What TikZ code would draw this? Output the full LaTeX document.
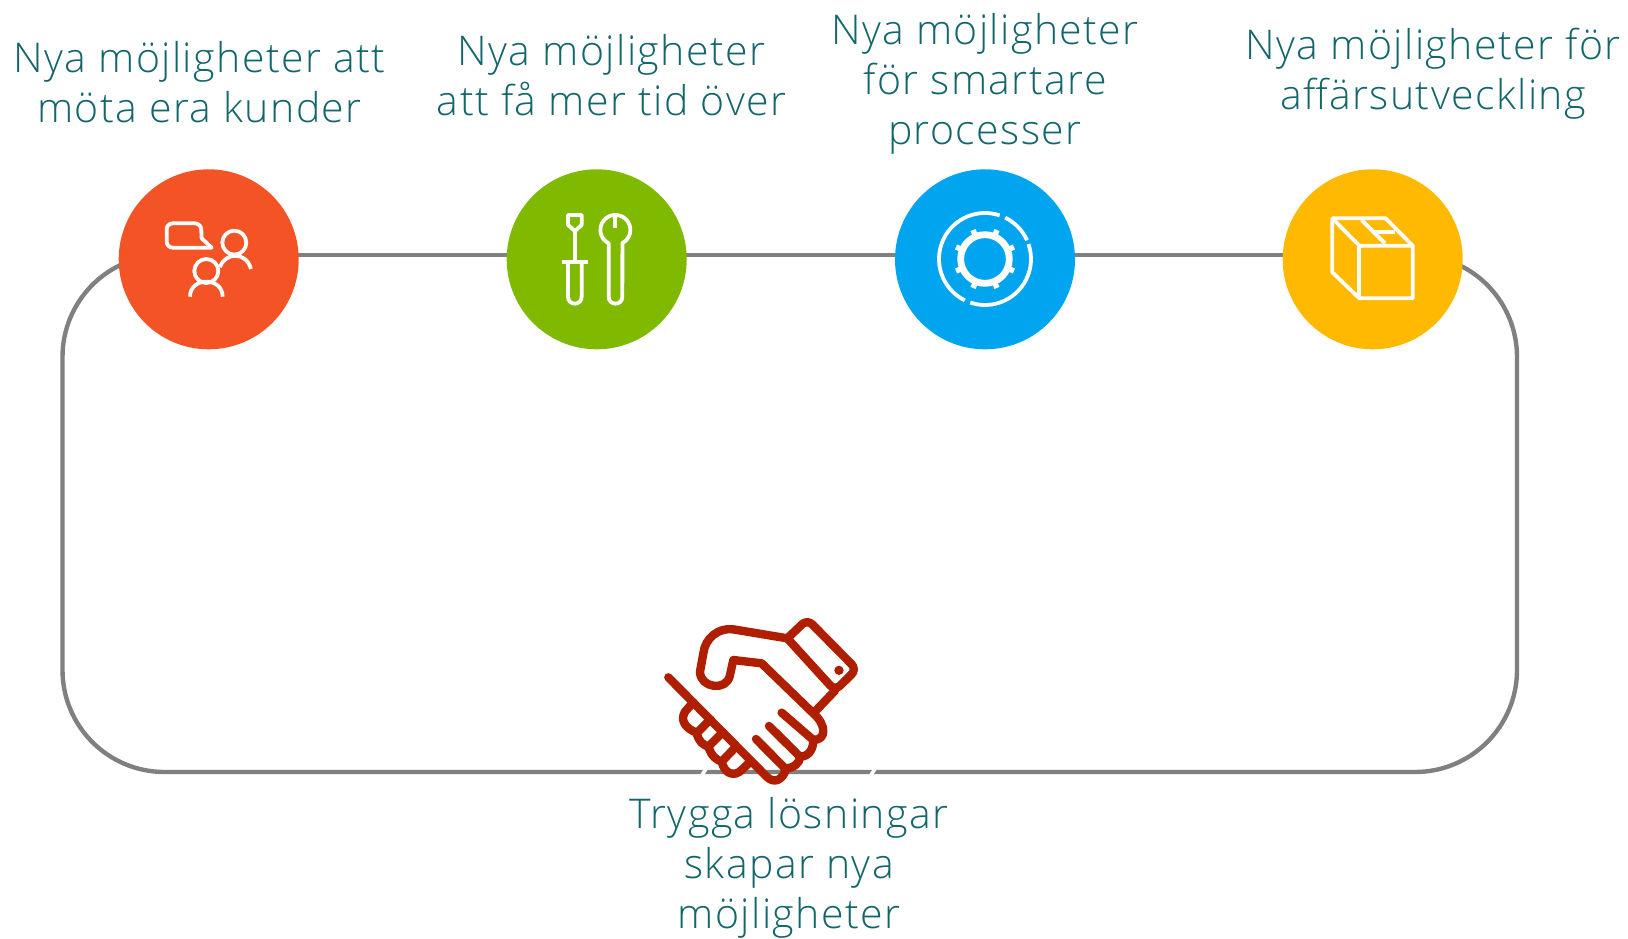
\documentclass[tikz,border=0pt]{standalone}
\usepackage{fontspec}
\setmainfont{Open Sans Light}[LetterSpace=3.5]
\usepackage{xcolor}
\usetikzlibrary{positioning,backgrounds}
\definecolor{meetcol}{HTML}{F35325}
\definecolor{toolcol}{HTML}{7FBA00}
\definecolor{gearcol}{HTML}{00A4EF}
\definecolor{boxcol}{HTML}{FFB900}
\definecolor{shakecol}{HTML}{B01E00}
\definecolor{textcol}{HTML}{13666A}
\definecolor{ringcol}{HTML}{808080}
\begin{document}
\begin{tikzpicture}[
		x=1pt,
		y=-1pt,
		hub/.style={
		  circle,
		  draw=none,
		  minimum size=180pt,
		  inner sep=0pt
		  },
		caption/.style={
		  align=center,
		  text=textcol,
		  font=\fontsize{41}{50}\selectfont
		  },
		ring/.style={
		  draw=ringcol,
		  line width=4.4pt
		  },
		glyph/.style={
		  draw=white,
		  line width=3.8pt,
		  line join=round
		  },
		shake/.style={
		  draw=shakecol,
		  line width=8.4pt,
		  line cap=round,
		  line join=round
		  }
		]
		\useasboundingbox (0,0) rectangle (1628,938);
		% circles
		\node[hub,fill=meetcol] (meet) at (208.7,259.3) {};
		\node[hub,fill=toolcol] (tools) at (596.7,259.3) {};
		\node[hub,fill=gearcol] (gear) at (985,259.3) {};
		\node[hub,fill=boxcol] (parcel) at (1372.7,259.3) {};
		\coordinate (topline) at (0,255);
		\coordinate (loopnw) at (62.5,255);
		\coordinate (loopsw) at (62.5,772);
		\coordinate (loopse) at (1517,772);
		\coordinate (loopne) at (1517,255);
		% grey line
		\begin{scope}[on background layer]
		  \foreach \from/\to in {meet/tools,tools/gear,gear/parcel}
		    \draw[ring] (\from |- topline) -- (\to |- topline);
		  \draw[ring,rounded corners=102pt] (meet |- topline) -- (loopnw) -- (loopsw) -- (loopse) -- (loopne) -- (parcel |- topline);
		\end{scope}
		% labels
		\node[caption] (meettext) at (199.4,82) {Nya möjligheter att\\möta era kunder};
		\node[caption] (toolstext) at (611.6,75) {Nya möjligheter\\att få mer tid över};
		\node[caption] (geartext) at (985,83.5) {Nya möjligheter\\för smartare\\processer};
		\node[caption] (parceltext) at (1433,74) {Nya möjligheter för\\affärsutveckling};
		\node[caption] (shaketext) at (789,868) {Trygga lösningar\\skapar nya\\möjligheter};
		% people
		\begin{scope}[shift={(110,160)},x=0.3333pt,y=-0.3333pt]
		  \draw[glyph] (305,263) [rounded corners=6pt] -- (170,263) -- (170,190) -- (273,190) [sharp corners] -- (275,235) -- cycle;
		  \draw[glyph] (373,248) circle[radius=36];
		  \draw[glyph] (289,333) circle[radius=36];
		  \draw[glyph] (240,410) .. controls (240,350) and (338,350) .. (338,410);
		  \draw[glyph] (330,322) .. controls (345,275) and (410,275) .. (423,327);
		\end{scope}
		% tools
		\begin{scope}[shift={(500,160)},x=0.3333pt,y=-0.3333pt]
		  \draw[glyph] (204,165) -- (245,165) -- (245,195) -- (225,213) -- (204,195) -- cycle;
		  \draw[glyph] (225,213) -- (225,306);
		  \draw[glyph] (185,306) -- (265,306);
		  \draw[glyph] (204,306) -- (204,410) .. controls (204,438) and (245,438) .. (245,410) -- (245,306);
		  \draw[glyph] (326,410) -- (326,250) arc[start angle=116.6,end angle=422,radius=45] -- (367,410) .. controls (367,438) and (326,438) .. (326,410);
		  \draw[glyph] (346,170) -- (346,205);
		\end{scope}
		% gear
		\begin{scope}[shift={(885,160)},x=0.3333pt,y=-0.3333pt]
		  \begin{scope}[shift={(300,297)}]
		    \draw[glyph] (116:138) arc[start angle=116,end angle=288.6,radius=138];
		    \draw[glyph] (296:138) arc[start angle=296,end angle=336,radius=138];
		    \draw[glyph] (341:138) arc[start angle=341,end angle=468.7,radius=138];
		    \draw[glyph,line width=6.8pt] (0,0) circle[radius=73];
		    \foreach \ang in {22.5,67.5,...,337.5}
		      \draw[glyph,line width=5.5pt] (\ang:75) -- (\ang:94);
		  \end{scope}
		\end{scope}
		% parcel
		\begin{scope}[shift={(1270,160)},x=0.3333pt,y=-0.3333pt]
		  \draw[glyph] (187,175) -- (347,175) -- (428,257) -- (428,415) -- (268,415) -- (187,337) -- cycle;
		  \draw[glyph] (187,175) -- (268,257) -- (428,257);
		  \draw[glyph] (268,257) -- (268,415);
		  \draw[glyph] (275,180) -- (345,250);
		  \draw[glyph] (305,215) -- (375,215);
		\end{scope}
		% handshake
		\begin{scope}[shift={(650,600)},x=0.3333pt,y=-0.3333pt]
		  \draw[shake] (55,232) -- (350,530) .. controls (372,552) and (395,540) .. (405,515);
		  \draw[shake] (412,115) [rounded corners=7pt] -- (472,58) -- (620,208) -- (555,272) [sharp corners] -- cycle;
		  \fill[shakecol] (567,211) circle[radius=14];
		  \draw[shake] (412,115) -- (250,88) .. controls (205,82) and (165,115) .. (160,160) -- (150,215) .. controls (150,265) and (232,275) .. (240,225) -- (250,180) -- (335,190) -- (490,340) .. controls (530,375) and (530,420) .. (490,420) -- (395,338);
		  \draw[shake] (490,340) -- (555,272);
		  \draw[shake] (357,378) -- (450,470) .. controls (475,470) and (490,450) .. (490,420);
		  \draw[shake] (318,417) -- (405,505) .. controls (430,505) and (450,490) .. (450,470);
		  \draw[shake] (130,307) -- (105,335) .. controls (90,360) and (105,385) .. (140,398);
		  \draw[shake] (140,398) .. controls (145,425) and (160,435) .. (175,440);
		  \draw[shake] (175,440) .. controls (185,470) and (200,480) .. (215,485);
		  \draw[shake] (215,485) .. controls (225,525) and (255,530) .. (275,510) -- (298,488);
		  \draw[shake] (140,400) -- (181,358);
		  \draw[shake] (175,440) -- (218,397);
		  \draw[shake] (215,485) -- (258,440);
		\end{scope}
		\draw[white,line width=3.5pt] (702,775) -- (706,769);
		\draw[white,line width=3.5pt] (871,775) -- (875,769);
	\end{tikzpicture}
\end{document}
